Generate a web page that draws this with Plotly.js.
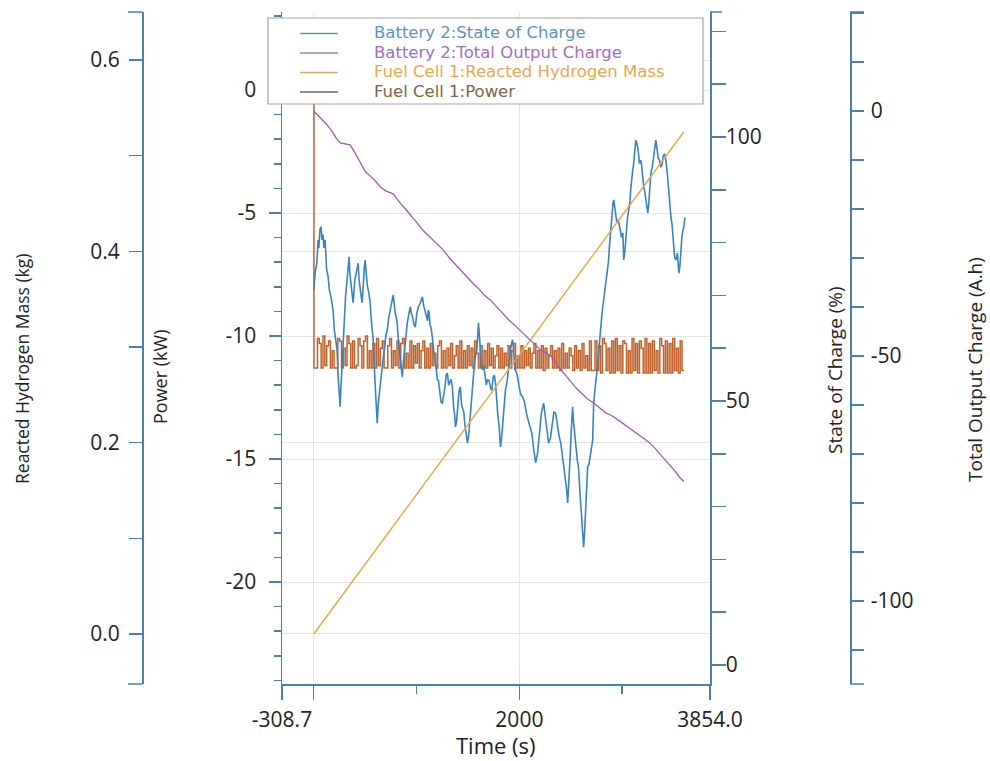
<!DOCTYPE html>
<html><head><meta charset="utf-8">
<script src="https://cdn.plot.ly/plotly-3.0.1.min.js"></script>
<style>html,body{margin:0;padding:0;background:#fff}#chart{width:990px;height:761px}</style>
</head><body><div id="chart"></div>
<script>
// Battery 2: State of Charge (%) vs time (s)
const socTime = [0,15,30,42,50,60,71,80,90,100,110,125,140,152,165,176,188,200,210,218,227,236,245,250,257,263,270,278,286,293,300,310,320,332,344,352,360,372,383,392,400,416,432,441,450,460,471,478,485,493,500,510,520,535,549,557,565,572,578,590,600,609,617,628,640,653,666,678,690,702,715,728,740,756,773,782,790,800,812,823,835,848,861,873,885,897,910,925,939,950,960,975,988,1002,1017,1035,1056,1070,1085,
1100,1107,1114,1122,1130,1141,1153,1164,1175,1188,1202,1213,1225,1238,1251,1263,1275,1288,1300,1312,1325,1336,1348,1355,1362,1370,1378,1389,1400,1413,1426,1438,1450,1460,1470,1482,1495,1507,1520,1536,1553,1565,1578,1590,1602,1611,1620,1630,1641,1653,1665,1678,1690,1705,1720,1732,1745,1757,1768,1779,1790,1803,1816,1828,1840,1852,1865,1882,1900,1916,1933,1940,1948,1955,1963,1979,1995,2013,2031,2050,2070,2090,2109,2122,2135,2146,2158,2176,2195,2215,2236,2248,2260,2272,2284,2302,2320,2336,2353,2369,2385,2403,2421,2433,2445,2458,2470,2482,2495,2506,2518,2527,2535,2542,2548,2556,2565,2571,2577,2588,2600,2612,2625,2635,2645,2654,2664,2677,2690,2701,2713,2723,2732,2742,2752,2762,2770,2778,2785,2791,2801,2811,2823,2835,2847,2859,2867,2875,2882,2889,2897,2905,2911,2918,2926,2935,2946,2957,2968,2980,2993,3006,3010,3015,3027,3040,3052,3064,3075,3085,3094,3103,3110,3118,3125,3132,3143,3155,3168,3181,3188,3195,3202,3210,3220,3230,3240,3249,3257,3265,3272,3279,3292,3305,3316,3327,3338,3350,3363,3376,3388,3400,3412,3425,3437,3450,3462,3474,3485,3497,3510,3522,3530,3537,3545,3552,3561,3570,3580,3591,3600,3610];
const socValue = [71.0,74.5,76,80.5,79,82.5,83.0,80.5,81.5,79,80.5,75,73.5,71,70,68.5,67.2,63.5,62,60.5,59.7,55,53,50.5,48.9,52,55,59,62.1,64.5,66,70,72,75,77.3,74,72,70.5,68.6,71.5,73,74.5,76.1,73,71,70,68.6,71.5,73,75.5,76.7,74,72,70.5,68.6,66,64,63,61.6,56,52,48,45.8,49.5,52,55,56.4,58.5,60,62.5,63.4,65.5,67,68.5,70.1,68,67,66,64.8,61.5,59,56.5,54.5,57.5,60,63,64.8,66.5,67.8,66.5,66,64.5,64.0,66.5,67.8,68.5,69.7,68,67,
66,65.2,67.2,66.8,64.5,63.9,62.1,59.2,58,56.8,54.0,53.9,51.5,49.8,49.6,51.0,52.5,54.9,55.3,53.0,53.5,54.1,52.7,50.2,48.5,47.5,45.1,46.0,49,51.8,52.7,49.2,48.5,47.8,45.5,43.2,42.0,43.5,47,51.2,54.0,57.6,59,60.5,64.8,63.0,60,56.6,55.9,56.8,55,53.0,54.0,53.9,52.5,52.0,54.5,54.9,53.4,50.0,47.5,45.2,41.3,43.2,46.5,50.2,52.1,53.9,57,60.0,61.6,60.8,58.5,56.0,55.9,54.9,53,51.2,50.8,49.8,47.5,46.0,45.1,43.8,41.5,40.2,38.3,40.0,44,47.8,49.6,47.5,45.5,44.5,42.0,43.0,45.5,47.9,47.7,45.0,43.5,42.0,39.4,37.5,35,33.5,30.7,34.5,40,44.8,48.9,46.0,44.5,43.2,41.3,39.2,38.5,38.0,36.9,33.0,29.5,26.5,22.3,25.5,30,34.5,37.5,38.0,40,41.8,42.6,49.6,52.0,53.5,55.0,57.5,59.5,61,61.8,63.4,66.0,67.8,69.5,71.5,73.9,74.8,76.5,79,81.0,82.4,83.8,86,87.5,88.1,87.0,85.5,84.0,84.3,83.8,82.5,81.0,81.8,79.5,76.7,78.5,82,84.8,86.2,87.5,90.5,92.6,93.8,94.6,97,98.6,99.4,98.8,97.5,95.0,95.6,94.8,93,91.0,90.5,89.6,88,86.0,85.6,87.0,90,92.0,93.2,94.2,96.5,98.0,99.4,97.9,96,95.6,94.3,94.8,96.5,96.8,95.6,93.5,90,86.2,84.8,83.4,80,77.2,76.7,77.5,78,75.8,74.2,75.5,78.5,80.9,82.4,83.0,84.8];

// Battery 2: Total Output Charge (A.h)
const chargeTime = [0,60,120,180,220,257,300,354,400,450,500,560,600,647,700,773,830,900,960,1007,1060,1110,1160,1220,1261,1320,1380,1440,1495,1550,1610,1660,1719,1780,1840,1900,1960,2020,2070,2109,2150,2207,2260,2310,2370,2431,2490,2550,2610,2670,2723,2780,2840,2900,2960,3010,3055,3110,3160,3210,3260,3308,3360,3410,3460,3510,3560,3600];
const chargeValue = [0,-1.2,-2.6,-4.2,-5.6,-6.5,-6.7,-6.9,-8.5,-10.5,-12.3,-13.5,-14.3,-15.5,-16.3,-16.9,-18.5,-20.2,-21.6,-22.9,-24.3,-25.3,-26.2,-27.6,-28.4,-30,-31.4,-32.6,-33.9,-35.2,-36.4,-37.6,-38.6,-40,-41.4,-42.7,-43.8,-45,-46,-46.7,-47.5,-48.8,-49.3,-50.1,-51.9,-53.5,-55,-56.5,-57.7,-58.9,-59.6,-60.5,-61.6,-62.2,-63,-63.8,-64.5,-65.3,-66,-66.8,-67.6,-68.6,-69.8,-71.1,-72.3,-73.4,-74.8,-75.6];

// Fuel Cell 1: Reacted Hydrogen Mass (kg)
const h2Time = [0,600,1200,1800,2400,3000,3600];
const h2Mass = [0,0.0875,0.175,0.2625,0.35,0.4375,0.525];

// Fuel Cell 1: Power (kW): value at t=0, then samples every 18 s from 18 s to 3600 s
const powerStartTime = [0, 2];
const powerStartValue = [0, -11.3];
const powerStep = 18;
const powerValue = [
-11.3,-10.1,-10.3,-11.3,-10.0,-11.2,-10.4,-10.2,-11.3,-10.6,
-11.3,-11.3,-10.1,-10.2,-11.3,-10.5,-11.2,-10.0,-10.3,-11.3,
-10.2,-11.3,-11.2,-10.1,-10.4,-11.3,-10.2,-10.0,-11.3,-10.6,
-11.3,-10.3,-11.3,-10.1,-11.2,-10.5,-10.2,-11.3,-11.3,-10.4,
-10.1,-11.3,-10.6,-11.2,-10.2,-11.3,-10.3,-10.1,-11.3,-10.7,
-11.3,-10.2,-11.3,-10.4,-11.1,-10.3,-11.3,-10.6,-10.2,-11.3,
-10.5,-11.3,-10.3,-11.2,-10.7,-11.3,-10.4,-10.2,-11.3,-10.6,
-11.3,-10.5,-11.2,-10.3,-11.3,-10.8,-10.4,-11.3,-10.2,-11.3,
-10.6,-11.3,-10.4,-11.2,-10.5,-11.3,-10.2,-10.7,-11.3,-10.4,
-11.3,-10.6,-11.3,-10.3,-11.2,-10.5,-11.3,-10.8,-10.4,-11.3,
-10.5,-11.3,-10.7,-11.2,-10.4,-11.3,-10.6,-10.3,-11.3,-10.8,
-11.3,-10.4,-11.3,-10.6,-11.2,-10.5,-11.3,-10.7,-10.3,-11.3,
-10.6,-11.3,-10.4,-11.4,-10.5,-11.3,-10.8,-10.4,-11.3,-10.6,
-11.3,-10.5,-11.4,-10.3,-11.3,-10.7,-11.3,-10.5,-10.8,-11.4,
-10.4,-11.3,-10.6,-11.4,-10.3,-11.3,-10.8,-11.4,-10.2,-11.4,
-11.4,-10.2,-11.4,-10.4,-11.5,-10.1,-10.3,-11.4,-10.5,-11.5,
-10.2,-11.5,-10.1,-11.4,-10.4,-11.5,-10.2,-10.3,-11.5,-10.6,
-11.5,-10.1,-11.4,-10.3,-11.5,-10.2,-10.5,-11.5,-10.1,-11.5,
-10.3,-11.5,-10.2,-11.4,-10.6,-11.5,-10.1,-10.4,-11.5,-10.2,
-11.5,-10.3,-11.5,-10.1,-11.4,-10.5,-11.5,-10.2,-11.4,-11.4];
const powerTime = powerStartTime.slice();
const powerAll = powerStartValue.concat(powerValue);
for (let i = 0; i < powerValue.length; i++) powerTime.push((i + 1) * powerStep);

// Tick labels
const xTickVals = [-308.7, 0, 2000, 3854.0];
const xTickText = ['-308.7', '', '2000', '3854.0'];
const xMinorVals = [1000, 3000];
const powerTickVals = [0, -5, -10, -15, -20];
const powerTickText = ['0', '-5', '-10', '-15', '-20'];
const chargeTickVals = [0, -50, -100];
const chargeTickText = ['0', '-50', '-100'];

const seriesNames = ['Battery 2:State of Charge','Battery 2:Total Output Charge','Fuel Cell 1:Reacted Hydrogen Mass','Fuel Cell 1:Power'];
const seriesColors = ['#3a83bf','#9b5cb0','#e9a43f','#c0622b'];
const legendTextColors = ['#5f92c2','#a06fbd','#e8a552','#7d6445'];
const legendLineColors = ['#6b93b8','#a27cb2','#d9ab62','#7c6352'];

const axisColor = '#4a80b0';
const fontFam = '"Open Sans", "Noto Sans", "DejaVu Sans", sans-serif';
const legendFam = '"DejaVu Sans", "Open Sans", sans-serif';
const W = 990, H = 761, PT = 12, PB = 684;
const px = v => v / W;
const py = v => (PB - v) / (PB - PT);

const traces = [
  {x: socTime, y: socValue, yaxis: 'y2', name: seriesNames[0], type: 'scatter', mode: 'lines', line: {color: seriesColors[0], width: 1.6}},
  {x: chargeTime, y: chargeValue, yaxis: 'y4', name: seriesNames[1], type: 'scatter', mode: 'lines', line: {color: seriesColors[1], width: 1.3}},
  {x: h2Time, y: h2Mass, yaxis: 'y3', name: seriesNames[2], type: 'scatter', mode: 'lines', line: {color: seriesColors[2], width: 1.4}},
  {x: powerTime, y: powerAll, yaxis: 'y', name: seriesNames[3], type: 'scatter', mode: 'lines', line: {color: seriesColors[3], width: 1.5, shape: 'hv'}}
];

const tickFont = {family: fontFam, size: 21, color: '#222'};
const common = {showline: true, linecolor: axisColor, linewidth: 1.5, ticks: 'outside', tickcolor: axisColor, tickwidth: 1.5, zeroline: false, tickfont: tickFont, fixedrange: true};

// legend drawn as a boxed key (rows at these pixel heights)
const legendRowsY = [32.5, 52, 71.5, 91];
const legendAnn = seriesNames.map((n, i) => ({
  text: n, x: px(373), y: py(legendRowsY[i]), xanchor: 'left', yanchor: 'middle', borderpad: 0,
  font: {family: legendFam, size: 16.5, color: legendTextColors[i]}
}));
const legendShapes = [{type: 'rect', x0: px(268), x1: px(703), y0: py(104), y1: py(18), fillcolor: '#ffffff', line: {color: '#a3a3a3', width: 1.2}}]
  .concat(seriesNames.map((n, i) => ({type: 'line', x0: px(300), x1: px(338), y0: py(legendRowsY[i] + 1), y1: py(legendRowsY[i] + 1), line: {color: legendLineColors[i], width: 1.6}})));

const layout = {
  width: W, height: H,
  margin: {l: 0, r: 0, t: PT, b: H - PB},
  paper_bgcolor: '#fff', plot_bgcolor: '#fff',
  font: {family: fontFam, size: 18, color: '#222'},
  showlegend: false,
  xaxis: Object.assign({}, common, {
    domain: [px(282), px(710)], range: [-308.7, 3854.0],
    tickmode: 'array', tickvals: xTickVals, ticktext: xTickText, ticklen: 14,
    showgrid: true, gridcolor: '#e4e4e4', ticklabelstandoff: 2,
    minor: {tickmode: 'array', tickvals: xMinorVals, ticks: 'outside', ticklen: 8, tickcolor: axisColor, showgrid: false}
  }),
  yaxis: Object.assign({}, common, {
    range: [-24.146, 3.171], tickmode: 'array', tickvals: powerTickVals, ticktext: powerTickText, ticklen: 12, side: 'left', anchor: 'x',
    showgrid: true, gridcolor: '#e4e4e4', ticklabelstandoff: 8,
    minor: {tickmode: 'linear', tick0: 0, dtick: 1, ticks: 'outside', ticklen: 7, tickcolor: axisColor, showgrid: false}
  }),
  yaxis2: Object.assign({}, common, {
    overlaying: 'y', side: 'right', anchor: 'x',
    range: [-3.6, 123.67], tick0: 0, dtick: 50, ticklen: 14, showgrid: false, ticklabelstandoff: -4,
    minor: {dtick: 10, ticks: 'outside', ticklen: 14, tickcolor: axisColor, showgrid: false}
  }),
  yaxis3: Object.assign({}, common, {
    overlaying: 'y', side: 'left', anchor: 'free', position: px(142),
    range: [-0.0523, 0.6502], tick0: 0, dtick: 0.2, tickformat: '.1f', ticklen: 13,
    showgrid: true, gridcolor: '#e4e4e4', ticklabelstandoff: 5,
    minor: {dtick: 0.1, ticks: 'outside', ticklen: 13, tickcolor: axisColor, showgrid: false}
  }),
  yaxis4: Object.assign({}, common, {
    overlaying: 'y', side: 'right', anchor: 'free', position: px(850),
    range: [-116.94, 20.2], tickmode: 'array', tickvals: chargeTickVals, ticktext: chargeTickText, ticklen: 12, showgrid: false, ticklabelstandoff: 3,
    minor: {tickmode: 'linear', tick0: 0, dtick: 10, ticks: 'outside', ticklen: 12, tickcolor: axisColor, showgrid: false}
  }),
  annotations: [
    {text: 'Reacted Hydrogen Mass (kg)', x: px(22), y: py(369), textangle: -90, font: {family: fontFam, size: 17.5, color: '#222'}},
    {text: 'Power (kW)', x: px(160), y: py(377), textangle: -90, font: {family: fontFam, size: 18, color: '#222'}},
    {text: 'State of Charge (%)', x: px(835), y: py(370), textangle: -90},
    {text: 'Total Output Charge (A.h)', x: px(975), y: py(370), textangle: -90},
    {text: 'Time (s)', x: px(496), y: py(745), textangle: 0, font: {family: fontFam, size: 22, color: '#222'}}
  ].map(a => Object.assign({xref: 'paper', yref: 'paper', xanchor: 'center', yanchor: 'middle', showarrow: false, font: {family: fontFam, size: 19, color: '#222'}}, a))
   .concat(legendAnn.map(a => Object.assign({xref: 'paper', yref: 'paper', showarrow: false}, a))),
  shapes: [
    {x0: px(128), x1: px(142), y0: 1, y1: 1},
    {x0: px(128), x1: px(142), y0: 0, y1: 0},
    {x0: px(850), x1: px(864), y0: 1, y1: 1},
    {x0: px(850), x1: px(864), y0: 0, y1: 0},
    {x0: px(710), x1: px(722), y0: 1, y1: 1}
  ].map(s => Object.assign({type: 'line', xref: 'paper', yref: 'paper', line: {color: axisColor, width: 1.5}}, s))
   .concat(legendShapes.map(s => Object.assign({xref: 'paper', yref: 'paper', layer: 'above'}, s)))
};

Plotly.newPlot('chart', traces, layout, {displayModeBar: false, staticPlot: true});
</script>
</body></html>
